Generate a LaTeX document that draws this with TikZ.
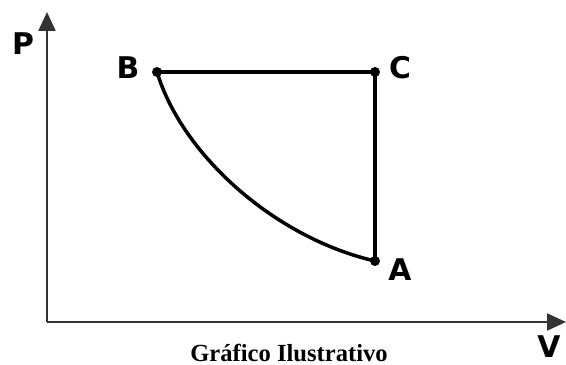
\documentclass[tikz,border=0pt]{standalone}
\usepackage{fontspec}
\setsansfont{DejaVu Sans}
\setmainfont{Liberation Serif}
\usetikzlibrary{arrows.meta}
\begin{document}
\begin{tikzpicture}[x=0.02cm, y=-0.02cm, line width=2pt,
  every node/.style={font=\sffamily\bfseries\fontsize{17}{20}\selectfont},
  dot/.style={circle, fill, inner sep=0pt, minimum size=0.2cm},
  axis/.style={line width=1.3pt, black!80, -{Triangle[width=0.34cm, length=0.38cm]}}]
  \useasboundingbox (0,0) rectangle (566,365);
  % axes
  \coordinate (O) at (47,322);
  \coordinate (Ptip) at (47,12);
  \coordinate (Vtip) at (566,322);
  \draw[axis] (O) -- (Ptip);
  \draw[axis] (O) -- (Vtip);
  \node at (23,44) {P};
  \node at (549,347) {V};
  % states
  \node[dot] (B) at (157,72) {};
  \node[dot] (C) at (375,72) {};
  \node[dot] (A) at (375,261) {};
  \node at (128,68) {B};
  \node at (400,68) {C};
  \node at (400,270) {A};
  % cycle
  \draw (B.center) -- (C.center) -- (A.center);
  \draw (B.center) .. controls (182,155) and (275,238) .. (A.center);
  % caption
  \node[font=\rmfamily\bfseries\fontsize{14}{16}\selectfont, anchor=base] at (289,361) {Gráfico Ilustrativo};
\end{tikzpicture}
\end{document}
